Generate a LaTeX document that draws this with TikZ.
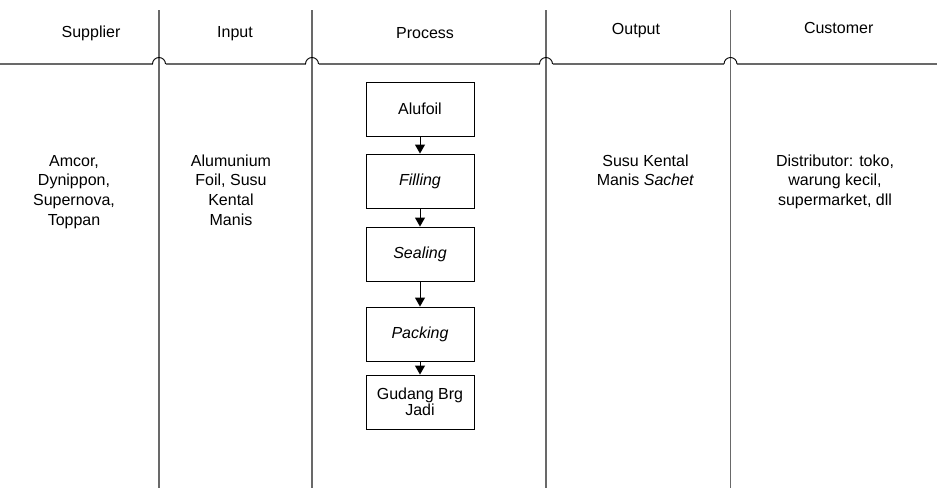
\documentclass[tikz,border=0pt]{standalone}
\usepackage{fontspec}
\setmainfont{Liberation Sans}
\usetikzlibrary{arrows.meta}
\definecolor{linegray}{RGB}{105,105,105}
\begin{document}
\begin{tikzpicture}[x=1pt,y=-1pt,
  font=\fontsize{16}{19.7}\selectfont,
  lane/.style={draw=linegray,line width=1.3pt},
  hop/.style={draw=black,line width=0.9pt},
  stepbox/.style={draw=black,line width=0.9pt,minimum width=108pt,minimum height=54pt,inner sep=0pt,align=center},
  flow/.style={draw=black,line width=0.9pt,-{Triangle[length=9pt,width=10pt]}},
  txt/.style={align=center,inner sep=0pt,anchor=base}]
\useasboundingbox (0,0) rectangle (937,488);
% lanes
\foreach \x in {159,312,546,730.5} \draw[lane] (\x,10) -- (\x,488);
\draw[lane] (0,64) -- (152.5,64) (165.5,64) -- (305.5,64) (318.5,64) -- (539.5,64) (552.5,64) -- (724,64) (737,64) -- (937,64);
\foreach \x in {159,312,546,730.5} \draw[hop] (\x-6.5,64) arc[start angle=180,end angle=0,radius=6.5pt];
% headers
\node[txt] (hs) at (91,37.5) {Supplier};
\node[txt] (hi) at (235,37.5) {Input};
\node[txt] (hp) at (425,38.4) {Process};
\node[txt] (ho) at (636,34.7) {Output};
\node[txt] (hc) at (838.7,33) {Customer};
% bodies (base anchor = baseline of last line)
\node[txt] (bs) at (74,225.1) {Amcor,\\Dynippon,\\Supernova,\\Toppan};
\node[txt] (bi) at (231,225.1) {Alumunium\\Foil, Susu\\Kental\\Manis};
\node[txt] (bo) at (645.5,185.7) {Susu Kental\\Manis \textit{Sachet}};
\node[txt] (bc) at (835,205.4) {Distributor: toko,\\warung kecil,\\supermarket, dll};
% process
\node[stepbox] (p1) at (420,109) {Alufoil};
\node[stepbox] (p2) at (420,181) {\textit{Filling}};
\node[stepbox] (p3) at (420,254) {\textit{Sealing}};
\node[stepbox] (p4) at (420,334) {\textit{Packing}};
\node[stepbox,font=\fontsize{16}{16.5}\selectfont] (p5) at (420,402) {Gudang Brg\\Jadi};
\draw[flow] (p1) -- (p2);
\draw[flow] (p2) -- (p3);
\draw[flow] (p3) -- (p4);
\draw[flow] (p4) -- (p5);
\end{tikzpicture}
\end{document}
